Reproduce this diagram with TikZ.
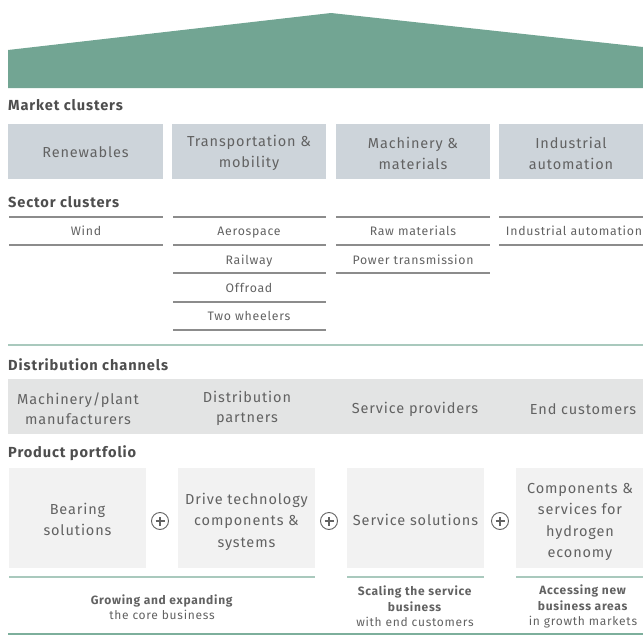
\documentclass[tikz,border=0pt]{standalone}
\usepackage{fontspec}
\setmainfont{Fira Sans}[LetterSpace=6]
\definecolor{roof}{RGB}{114,165,147}
\definecolor{mcol}{RGB}{205,212,218}
\definecolor{dcol}{RGB}{227,228,228}
\definecolor{pcol}{RGB}{242,242,242}
\definecolor{txt}{RGB}{98,98,98}
\definecolor{headc}{RGB}{78,78,78}
\definecolor{gline}{RGB}{169,201,189}
\definecolor{bline}{RGB}{125,175,156}
\definecolor{sline}{RGB}{140,140,140}
\begin{document}
\begin{tikzpicture}[x=1pt,y=-1pt,
  head/.style={anchor=west,inner sep=0,text=headc,font=\fontsize{14.6}{16}\selectfont\bfseries},
  mbox/.style={fill=mcol,inner sep=0,minimum height=55},
  mtext/.style={text=txt,align=center,inner sep=0,font=\fontsize{14.5}{21}\selectfont},
  sect/.style={text=txt,inner sep=0,text height=9,text depth=0,font=\fontsize{12.3}{14}\selectfont},
  secline/.style={draw=sline,line width=1.4pt},
  dtext/.style={text=txt,align=center,inner sep=0,font=\fontsize{14.5}{20.5}\selectfont},
  pbox/.style={fill=pcol,inner sep=0,minimum height=100},
  ptext/.style={text=txt,align=center,inner sep=0,font=\fontsize{14.5}{21.5}\selectfont},
  plus/.style={circle,draw=txt,line width=0.9pt,minimum size=17,inner sep=0},
  btext/.style={text=txt,align=center,inner sep=0,font=\fontsize{12}{15.5}\selectfont},
  uline/.style={draw=gline,line width=2pt},
]
\path[use as bounding box] (0,0) rectangle (643,637);
% roof
\fill[roof] (8,88) -- (8,50) -- (331,13) -- (643,47) -- (643,88) -- cycle;
% market clusters
\node[head] (hm) at (8,105) {Market clusters};
\node[mbox,minimum width=155] (m1) at (85.5,151.5) {};
\node[mbox,minimum width=154] (m2) at (249,151.5) {};
\node[mbox,minimum width=154] (m3) at (413,151.5) {};
\node[mbox,minimum width=144] (m4) at (571,151.5) {};
\node[mtext] (mt1) at (85.5,152) {Renewables};
\node[mtext] (mt2) at (249,153) {Transportation \&\\mobility};
\node[mtext] (mt3) at (413,153) {Machinery \&\\materials};
\node[mtext] (mt4) at (571,153) {Industrial\\automation};
% sector clusters
\node[head] (hs) at (8,202) {Sector clusters};
\foreach \y in {217,245} \draw[secline] (9,\y) -- (163,\y);
\foreach \y in {217,245,273,302,330} \draw[secline] (173,\y) -- (326,\y);
\foreach \y in {217,245,273} \draw[secline] (336,\y) -- (490,\y);
\foreach \y in {217,245} \draw[secline] (499,\y) -- (643,\y);
\node[sect] (s1) at (86,231) {Wind};
\node[sect] (s2) at (249,231) {Aerospace};
\node[sect] (s3) at (249,259.5) {Railway};
\node[sect] (s4) at (249,288) {Offroad};
\node[sect] (s5) at (249,316) {Two wheelers};
\node[sect] (s6) at (413,231) {Raw materials};
\node[sect] (s7) at (413,259.5) {Power transmission};
\node[sect] (s8) at (574,231) {Industrial automation};
% divider
\draw[draw=gline,line width=1.5pt] (8,345) -- (643,345);
% distribution channels
\node[head] (hd) at (8,365) {Distribution channels};
\fill[dcol] (8,379) rectangle (643,434);
\node[dtext] (d1) at (78,408.5) {Machinery/plant\\manufacturers};
\node[dtext] (d2) at (247,408.5) {Distribution\\partners};
\node[dtext] (d3) at (415,409) {Service providers};
\node[dtext] (d4) at (583,409) {End customers};
% product portfolio
\node[head] (hp) at (8,453) {Product portfolio};
\node[pbox,minimum width=137] (p1) at (77.5,518) {};
\node[pbox,minimum width=137] (p2) at (246.5,518) {};
\node[pbox,minimum width=137] (p3) at (415.5,518) {};
\node[pbox,minimum width=127] (p4) at (579.5,518) {};
\node[ptext] (pt1) at (77.5,519.5) {Bearing\\solutions};
\node[ptext] (pt2) at (246.5,521.5) {Drive technology\\components \&\\systems};
\node[ptext] (pt3) at (415.5,520) {Service solutions};
\node[ptext] (pt4) at (580,522) {Components \&\\services for\\hydrogen\\economy};
\foreach \n/\x in {x1/160,x2/329,x3/500}{
  \node[plus] (\n) at (\x,521) {};
  \draw[txt,line width=1.3pt] ([xshift=-4.5pt]\n.center) -- ([xshift=4.5pt]\n.center);
  \draw[txt,line width=1.3pt] ([yshift=-4.5pt]\n.center) -- ([yshift=4.5pt]\n.center);
}
% under lines
\draw[uline] (9,577) -- (315,577);
\draw[uline] (347,577) -- (484,577);
\draw[uline] (516,577) -- (643,577);
\node[btext] (b1) at (162,607) {\textbf{Growing and expanding}\\the core business};
\node[btext] (b2) at (415,606.5) {\textbf{Scaling the service}\\\textbf{business}\\with end customers};
\node[btext] (b3) at (583,606.5) {\textbf{Accessing new}\\\textbf{business areas}\\in growth markets};
\draw[draw=bline,line width=1.5pt] (8,634) -- (643,634);
\end{tikzpicture}
\end{document}
